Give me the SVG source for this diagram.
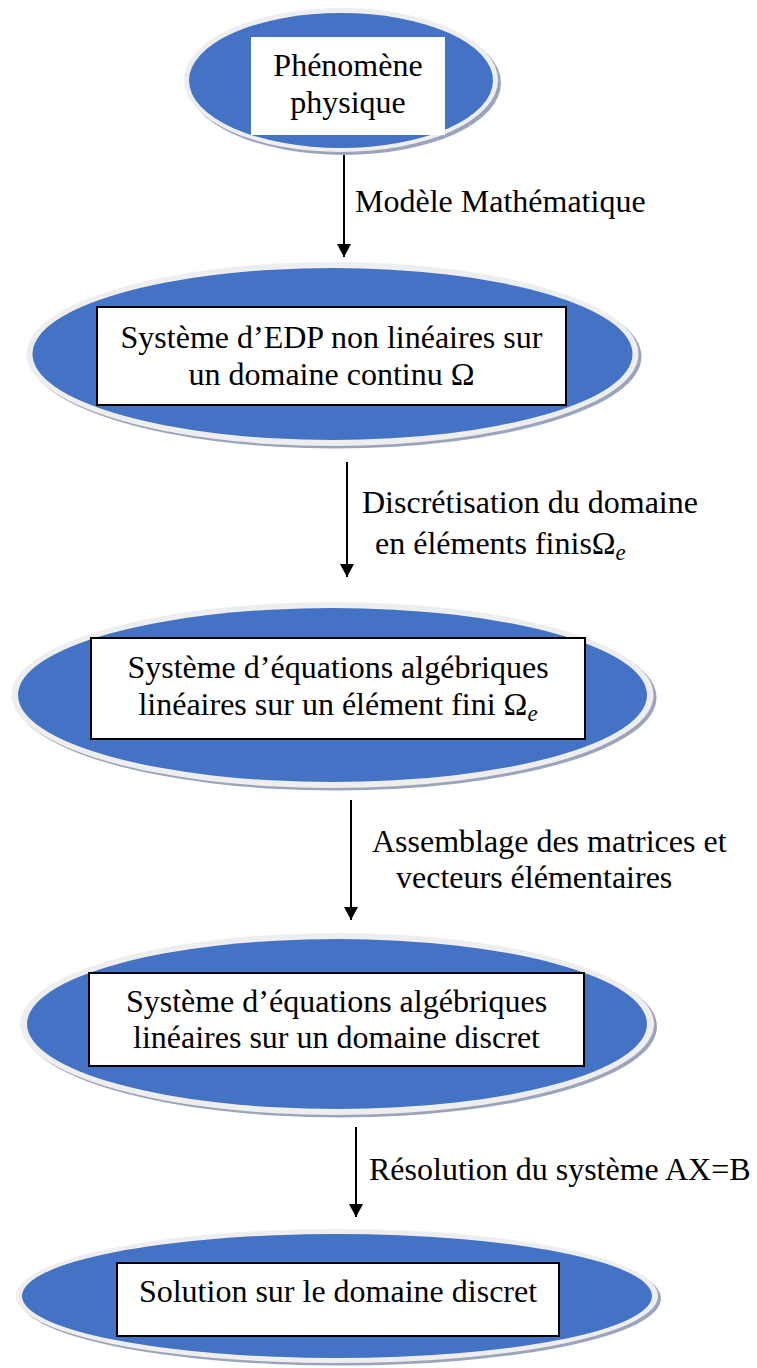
<svg xmlns="http://www.w3.org/2000/svg" width="757" height="1368" viewBox="0 0 757 1368">
<defs>
<style>
.sh{fill:#9aa4bd}
.rim{fill:#eeeeee}
.el{fill:#4472c4}
.box{fill:#ffffff;stroke:#000000;stroke-width:2}
.t{font-family:"Liberation Serif","Times New Roman",serif;font-size:32px;fill:#000000}
.c{text-anchor:middle}
.sub{font-style:italic;font-size:23px}
.ar{stroke:#000000;stroke-width:2;fill:none}
</style>
<marker id="ad" markerWidth="14" markerHeight="13" refX="7" refY="13" orient="0" markerUnits="userSpaceOnUse" viewBox="0 0 14 13">
<path d="M0,0 L14,0 L7,13 Z" fill="#000000"/>
</marker>
</defs>

<g id="connectors">
<line class="ar" x1="344" y1="150" x2="344" y2="257" marker-end="url(#ad)"/>
<text class="t" x="355" y="212">Modèle Mathématique</text>
<line class="ar" x1="347" y1="462" x2="347" y2="577" marker-end="url(#ad)"/>
<text class="t" x="362" y="513">Discrétisation du domaine</text>
<text class="t" x="375" y="554">en éléments finisΩ<tspan class="sub" dy="6">e</tspan></text>
<line class="ar" x1="351" y1="800" x2="351" y2="920" marker-end="url(#ad)"/>
<text class="t" x="372" y="852">Assemblage des matrices et</text>
<text class="t" x="396" y="888">vecteurs élémentaires</text>
<line class="ar" x1="356" y1="1127" x2="356" y2="1217" marker-end="url(#ad)"/>
<text class="t" x="369" y="1180">Résolution du système AX=B</text>
</g>

<g id="node1">
<ellipse class="sh" cx="344" cy="83" rx="157" ry="72"/>
<ellipse class="rim" cx="341" cy="80" rx="157" ry="72"/>
<ellipse class="el" cx="341" cy="80.5" rx="152" ry="67.5"/>
<rect x="251" y="37" width="194" height="98" fill="#ffffff"/>
<text class="t c" x="348" y="76">Phénomène</text>
<text class="t c" x="348" y="113">physique</text>
</g>

<g id="node2">
<ellipse class="sh" cx="335.5" cy="356.5" rx="306" ry="92"/>
<ellipse class="rim" cx="332.5" cy="354" rx="306" ry="92"/>
<ellipse class="el" cx="332.5" cy="354" rx="300" ry="86"/>
<rect class="box" x="97" y="307" width="469" height="98"/>
<text class="t c" x="331.5" y="348">Système d’EDP non linéaires sur</text>
<text class="t c" x="331.5" y="385">un domaine continu Ω</text>
</g>

<g id="node3">
<ellipse class="sh" cx="335.5" cy="697.5" rx="321" ry="93"/>
<ellipse class="rim" cx="332.5" cy="695" rx="321" ry="93"/>
<ellipse class="el" cx="332.5" cy="695" rx="314.5" ry="87"/>
<rect class="box" x="91" y="638" width="494" height="101"/>
<text class="t c" x="338" y="678">Système d’équations algébriques</text>
<text class="t c" x="338" y="715">linéaires sur un élément fini Ω<tspan class="sub" dy="6">e</tspan></text>
</g>

<g id="node4">
<ellipse class="sh" cx="340" cy="1026.5" rx="317" ry="91"/>
<ellipse class="rim" cx="337" cy="1024" rx="317" ry="91"/>
<ellipse class="el" cx="337" cy="1024" rx="310" ry="85"/>
<rect class="box" x="89" y="973" width="495" height="93"/>
<text class="t c" x="336.5" y="1012">Système d’équations algébriques</text>
<text class="t c" x="336.5" y="1048">linéaires sur un domaine discret</text>
</g>

<g id="node5">
<ellipse class="sh" cx="340" cy="1298.5" rx="321" ry="67"/>
<ellipse class="rim" cx="337" cy="1296" rx="321" ry="67"/>
<ellipse class="el" cx="337" cy="1296" rx="315" ry="62"/>
<rect class="box" x="117" y="1263" width="442" height="73"/>
<text class="t c" x="338" y="1302">Solution sur le domaine discret</text>
</g>
</svg>
